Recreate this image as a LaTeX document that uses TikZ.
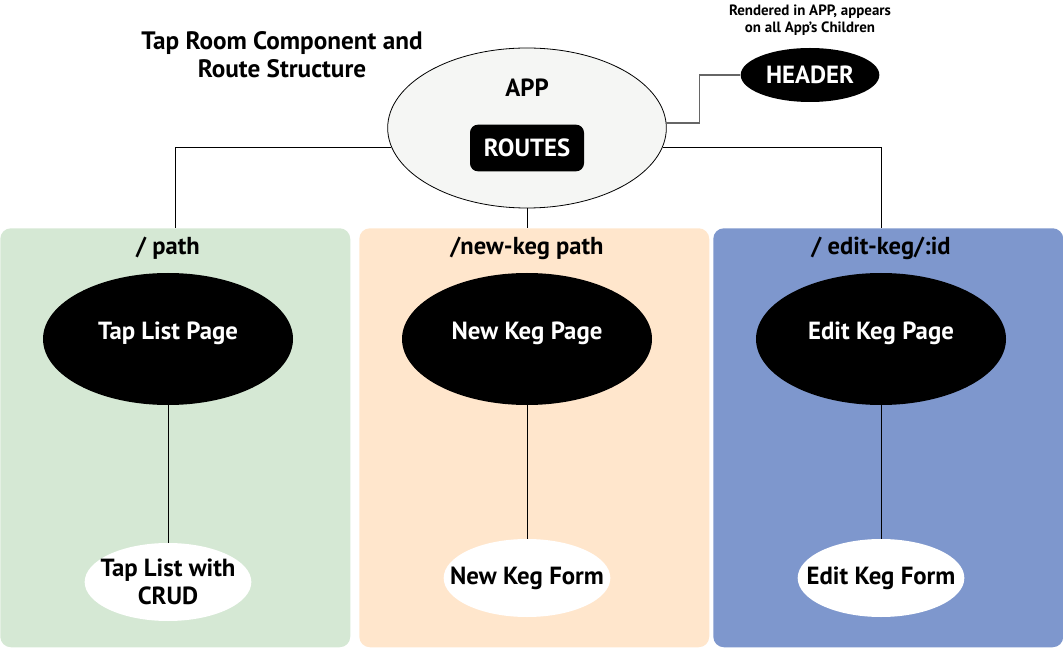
\documentclass[tikz,border=0pt]{standalone}
\usepackage{fontspec}
\setmainfont{PT Sans}
\usetikzlibrary{shapes.geometric,positioning}

\definecolor{rootgreen}{HTML}{D5E8D4}
\definecolor{newpeach}{HTML}{FFE6CC}
\definecolor{editblue}{HTML}{7E97CD}
\definecolor{appgray}{HTML}{F5F6F4}
\definecolor{wiregray}{HTML}{666666}

% text that does not widen its ellipse
\newcommand{\slim}[1]{\makebox[0pt]{#1}}

\tikzset{
  panel/.style={rectangle, rounded corners=8pt, anchor=north west, inner sep=0pt,
    minimum width=262.5pt, minimum height=314.25pt},
  paneltitle/.style={font=\bfseries\fontsize{18.4}{21}\selectfont},
  page/.style={ellipse, fill=black, text=white, inner sep=0pt,
    minimum width=187.5pt, minimum height=99pt, font=\bfseries\fontsize{18.6}{21}\selectfont},
  form/.style={ellipse, fill=white, inner sep=0pt, align=center,
    minimum width=125pt, minimum height=58.5pt, font=\bfseries\fontsize{18.6}{21.5}\selectfont},
  link/.style={line width=0.75pt},
}

\begin{document}
\begin{tikzpicture}[x=0.75pt, y=-0.75pt]
    % 1 unit = 1 px of the 1063 x 648 sheet
    \useasboundingbox (0, 0) rectangle (1063, 648);

    % title and note
    \node[align=center, font=\bfseries\fontsize{18.9}{21}\selectfont] (title) at (282, 55) {Tap Room Component and\\Route Structure};
    \node[align=center, font=\bfseries\fontsize{11.2}{12.75}\selectfont] (note) at (810, 20) {Rendered in APP, appears\\on all App’s Children};

    % panels: 0..350, 359..708, 713..1063
    \node[panel, fill=rootgreen] (rootpanel) at (0, 228) {};
    \node[panel, fill=newpeach] (newpanel) at (359, 228) {};
    \node[panel, fill=editblue] (editpanel) at (713, 228) {};

    \node[paneltitle] (roottitle) at (168, 248) {/ path};
    \node[paneltitle] (newtitle) at (527, 248) {/new-keg path};
    \node[paneltitle] (edittitle) at (881, 248) {/ edit-keg/:id};

    % app: x 388..667, y 48..208
    \node[ellipse, draw, line width=0.6pt, fill=appgray, minimum width=209pt, minimum height=120pt,
      font=\bfseries\fontsize{18.6}{21}\selectfont] (app) at (527, 128) {\raisebox{60pt}{APP}};
    \node[rectangle, rounded corners=6pt, fill=black, text=white, minimum width=85.5pt, minimum height=35pt,
      font=\bfseries\fontsize{18.6}{21}\selectfont] (routes) at (527, 148) {ROUTES};
    \node[ellipse, fill=black, text=white, inner sep=0pt, minimum width=104pt, minimum height=40.5pt,
      font=\bfseries\fontsize{18.6}{21}\selectfont] (header) at (810, 75) {\slim{HEADER}};

    % pages: y 273..405
    \node[page] (listpage) at (168, 339) {\raisebox{12pt}{Tap List Page}};
    \node[page] (newpage) at (527, 339) {\raisebox{12pt}{New Keg Page}};
    \node[page] (editpage) at (881, 339) {\raisebox{12pt}{Edit Keg Page}};

    % forms: y 539..617
    \node[form] (listform) at (168, 582) {\slim{Tap List with}\\\slim{CRUD}};
    \node[form] (newform) at (527, 578) {\slim{New Keg Form}};
    \node[form] (editform) at (881, 578) {\slim{Edit Keg Form}};

    % routes down to the panels (y = 148 on the app border)
    \draw[link] (app.188.4) -| (rootpanel.north);
    \draw[link] (app.south) -- (app.south |- newpanel.north);
    \draw[link] (app.-8.4) -| (editpage |- editpanel.north);

    % app to header
    \draw[line width=1.2pt, wiregray] (app.2.5) -- ++(33, 0) |- (header.west);

    % pages to forms
    \draw[link] (listpage.south) -- (listform.north);
    \draw[link] (newpage.south) -- (newform.north);
    \draw[link] (editpage.south) -- (editform.north);
\end{tikzpicture}
\end{document}
